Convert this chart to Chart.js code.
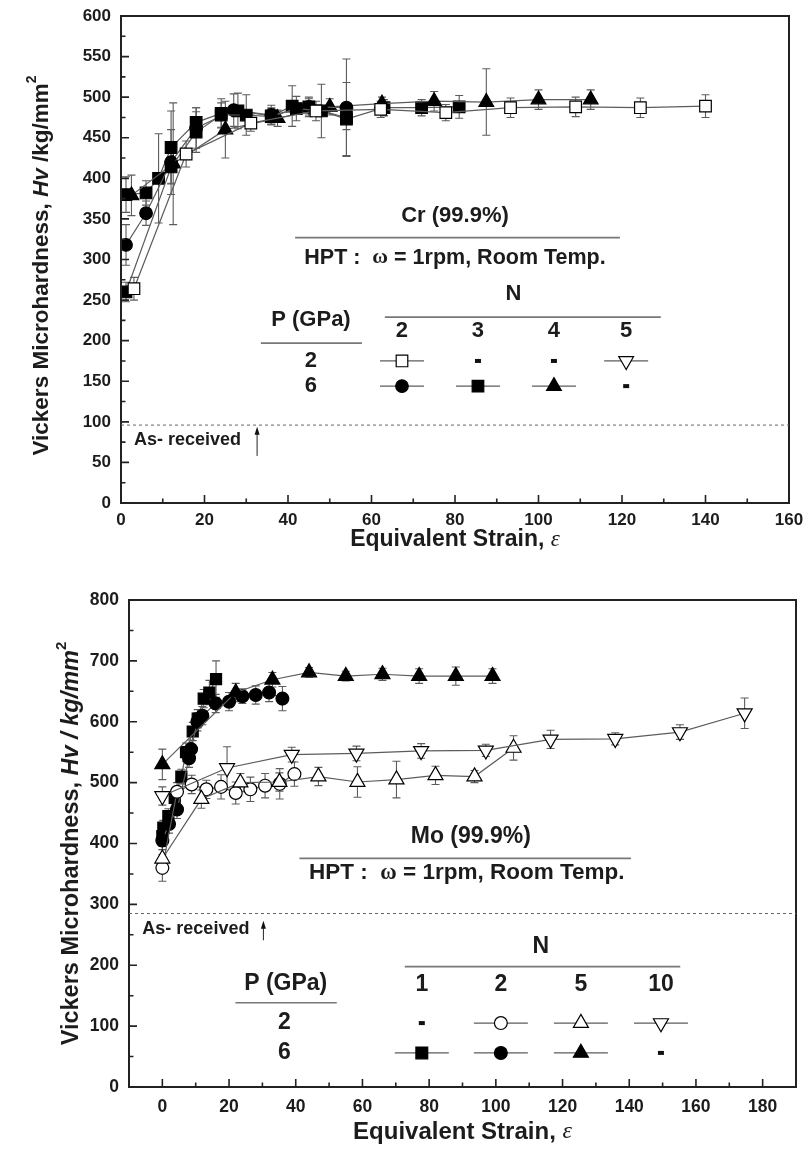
<!DOCTYPE html>
<html><head><meta charset="utf-8">
<script src="https://cdn.jsdelivr.net/npm/chart.js@4.4.0/dist/chart.umd.min.js"></script>
<style>
html,body{margin:0;padding:0;background:#fff;}
#wrap{position:relative;width:806px;height:1151px;overflow:hidden;}
.box{position:absolute;left:0;width:806px;}
canvas{display:block;}
</style></head><body>
<div id="wrap">
<div class="box" style="top:0;height:560px"><canvas id="c1" width="806" height="560"></canvas></div>
<div class="box" style="top:560px;height:591px"><canvas id="c2" width="806" height="591"></canvas></div>
</div>
<script>
// ================= DATA : Cr (top panel) =================
const crXTicks = [0, 20, 40, 60, 80, 100, 120, 140, 160];
const crYTicks = [0, 50, 100, 150, 200, 250, 300, 350, 400, 450, 500, 550, 600];
// P = 2 GPa, N = 2 (open squares)
const crStrainP2N2 = [3.1, 15.6, 31.1, 46.7, 62.2, 77.8, 93.3, 108.9, 124.4, 140];
const crHvP2N2     = [264, 430, 468, 483, 485, 481, 487, 488, 487, 489];
const crErrP2N2    = [14, 16, 10, 12, 10, 10, 12, 12, 12, 14];
// P = 6 GPa, N = 2 (filled circles)
const crStrainP6N2 = [1.2, 6, 12, 18, 27, 36, 45, 54];
const crHvP6N2     = [318, 357, 420, 462, 484, 478, 488, 487];
const crErrP6N2    = [25, 15, 40, 25, 20, 12, 10, 60];
// P = 6 GPa, N = 3 (filled squares)
const crStrainP6N3 = [1.2, 6, 9, 12, 18, 24, 28, 36, 41, 45, 54, 63, 72, 81];
const crHvP6N3     = [380, 382, 400, 438, 469, 480, 483, 477, 489, 488, 473, 487, 487, 488];
const crErrP6N3    = [22, 15, 55, 45, 18, 18, 22, 10, 25, 12, 45, 10, 10, 14];
// P = 6 GPa, N = 3 (filled squares, second disc)
const crStrainP6N3b = [1.2, 12, 18, 24, 30, 36, 42, 48, 54];
const crHvP6N3b     = [260, 414, 457, 478, 478, 476, 486, 483, 475];
const crErrP6N3b    = [12, 20, 25, 15, 25, 10, 15, 33, 15];
// P = 6 GPa, N = 4 (filled triangles)
const crStrainP6N4 = [2.5, 12.5, 25, 37.5, 50, 62.5, 75, 87.5, 100, 112.5];
const crHvP6N4     = [379, 418, 460, 474, 488, 492, 495, 494, 497, 497];
const crErrP6N4    = [25, 75, 35, 10, 10, 8, 12, 41, 12, 12];
const crAsReceived = 96;
const crNLabels = ['2', '3', '4', '5'];
const crPLabels = ['2', '6'];

// ================= DATA : Mo (bottom panel) =================
const moXTicks = [0, 20, 40, 60, 80, 100, 120, 140, 160, 180];
const moYTicks = [0, 100, 200, 300, 400, 500, 600, 700, 800];
// P = 6 GPa, N = 1 (filled squares)
const moStrainP6N1 = [0, 0.3, 1.8, 3.7, 5.7, 7.1, 9.1, 10.6, 12.4, 14.1, 16.1];
const moHvP6N1     = [412, 426, 445, 475, 510, 550, 584, 605, 638, 648, 670];
const moErrP6N1    = [12, 12, 12, 12, 12, 15, 15, 15, 15, 20, 30];
// P = 6 GPa, N = 2 (filled circles)
const moStrainP6N2 = [0, 2, 4.4, 8, 8.6, 10.5, 12, 16, 20, 24, 28, 32, 36];
const moHvP6N2     = [405, 432, 456, 540, 555, 600, 610, 630, 633, 642, 644, 648, 638];
const moErrP6N2    = [15, 15, 15, 15, 15, 15, 15, 15, 15, 12, 15, 15, 20];
// P = 6 GPa, N = 5 (filled triangles)
const moStrainP6N5 = [0, 22, 33, 44, 55, 66, 77, 88, 99];
const moHvP6N5     = [530, 648, 669, 681, 675, 678, 675, 675, 675];
const moErrP6N5    = [25, 15, 12, 8, 8, 10, 12, 15, 12];
// P = 2 GPa, N = 2 (open circles)
const moStrainP2N2 = [0, 4.4, 8.8, 13.2, 17.6, 22, 26.4, 30.8, 35.2, 39.6];
const moHvP2N2     = [360, 485, 497, 489, 493, 483, 489, 495, 498, 514];
const moErrP2N2    = [22, 15, 15, 15, 20, 18, 20, 20, 25, 20];
// P = 2 GPa, N = 5 (open triangles)
const moStrainP2N5 = [0, 11.7, 23.4, 35.1, 46.8, 58.5, 70.2, 81.9, 93.6, 105.3];
const moHvP2N5     = [375, 473, 500, 501, 510, 501, 505, 512, 510, 557];
const moErrP2N5    = [20, 15, 15, 15, 15, 25, 30, 15, 10, 20];
// P = 2 GPa, N = 10 (open down-triangles)
const moStrainP2N10 = [0, 19.4, 38.8, 58.2, 77.6, 97, 116.4, 135.8, 155.2, 174.6];
const moHvP2N10     = [478, 524, 546, 548, 552, 553, 571, 572, 583, 614];
const moErrP2N10    = [15, 35, 12, 12, 12, 10, 15, 10, 12, 25];
const moAsReceived = 285;
const moNLabels = ['1', '2', '5', '10'];
const moPLabels = ['2', '6'];

// ================= STYLE / RENDERING =================
const FONT = "'Liberation Sans', Arial, Helvetica, sans-serif";
const SERIF = "'Liberation Serif', 'DejaVu Serif', serif";
const INK = '#1c1c1c';
const LINE = '#5c5c5c';

const MK = {
  oSquare: {style: 'rect', fill: false, rot: 0},
  fSquare: {style: 'rect', fill: true, rot: 0},
  oCircle: {style: 'circle', fill: false, rot: 0},
  fCircle: {style: 'circle', fill: true, rot: 0},
  oTri: {style: 'triangle', fill: false, rot: 0},
  fTri: {style: 'triangle', fill: true, rot: 0},
  oDown: {style: 'triangle', fill: false, rot: 180},
};
const RAD = {rect: 8.2, circle: 6.3, triangle: 8.5};

function series(xs, ys, errs, mk, scale) {
  const m = MK[mk];
  const r = RAD[m.style] * (scale || 1);
  return {
    data: xs.map((x, i) => ({x: x, y: ys[i]})),
    errors: errs,
    showLine: true, fill: false, tension: 0,
    borderColor: LINE, borderWidth: 1.2,
    pointStyle: m.style, pointRotation: m.rot,
    pointRadius: r, pointHoverRadius: r,
    pointBackgroundColor: m.fill ? '#000' : '#fff',
    pointBorderColor: '#000', pointBorderWidth: 1.2
  };
}

function drawMarker(ctx, mk, x, y, r) {
  const m = MK[mk];
  ctx.save();
  ctx.beginPath();
  if (m.style === 'rect') {
    const s = Math.SQRT1_2 * r;
    ctx.rect(x - s, y - s, 2 * s, 2 * s);
  } else if (m.style === 'circle') {
    ctx.arc(x, y, r, 0, Math.PI * 2);
  } else {
    let a = m.rot * Math.PI / 180;
    ctx.moveTo(x + Math.sin(a) * r, y - Math.cos(a) * r);
    a += 2 * Math.PI / 3; ctx.lineTo(x + Math.sin(a) * r, y - Math.cos(a) * r);
    a += 2 * Math.PI / 3; ctx.lineTo(x + Math.sin(a) * r, y - Math.cos(a) * r);
    ctx.closePath();
  }
  ctx.fillStyle = m.fill ? '#000' : '#fff';
  ctx.fill();
  ctx.lineWidth = 1.2; ctx.strokeStyle = '#000';
  ctx.stroke();
  ctx.restore();
}

function fontOf(kind, size) {
  if (kind === 'bi') return 'italic bold ' + size + 'px ' + FONT;
  if (kind === 'i') return 'italic ' + size + 'px ' + SERIF;
  if (kind === 'serif') return 'bold ' + size + 'px ' + SERIF;
  if (kind === 'sup') return 'bold ' + Math.round(size * 0.62) + 'px ' + FONT;
  return 'bold ' + size + 'px ' + FONT;
}
function richWidth(ctx, parts, size) {
  let w = 0;
  parts.forEach(p => { ctx.font = fontOf(p[1], size); w += ctx.measureText(p[0]).width; });
  return w;
}
function drawRich(ctx, parts, x, y, size, align) {
  const w = richWidth(ctx, parts, size);
  let cx = align === 'left' ? x : x - w / 2;
  ctx.textBaseline = 'middle';
  ctx.textAlign = 'left';
  ctx.fillStyle = INK;
  parts.forEach(p => {
    ctx.font = fontOf(p[1], size);
    const dy = p[1] === 'sup' ? -size * 0.42 : 0;
    ctx.fillText(p[0], cx, y + dy);
    cx += ctx.measureText(p[0]).width;
  });
}

function makeDeco(cfg) {
  return {
    id: 'deco',
    beforeDatasetsDraw(chart) {
      const ctx = chart.ctx, xs = chart.scales.x, ys = chart.scales.y;
      ctx.save();
      ctx.strokeStyle = LINE; ctx.lineWidth = 1.1;
      chart.data.datasets.forEach(d => {
        d.data.forEach((p, i) => {
          const e = d.errors[i];
          const px = xs.getPixelForValue(p.x);
          const y1 = ys.getPixelForValue(p.y + e), y2 = ys.getPixelForValue(p.y - e);
          ctx.beginPath();
          ctx.moveTo(px, y1); ctx.lineTo(px, y2);
          ctx.moveTo(px - cfg.cap, y1); ctx.lineTo(px + cfg.cap, y1);
          ctx.moveTo(px - cfg.cap, y2); ctx.lineTo(px + cfg.cap, y2);
          ctx.stroke();
        });
      });
      ctx.restore();
    },
    afterDraw(chart) {
      const ctx = chart.ctx, xs = chart.scales.x, ys = chart.scales.y;
      const a = chart.chartArea;
      const X = v => xs.getPixelForValue(v), Y = v => ys.getPixelForValue(v);
      ctx.save();
      // frame
      ctx.strokeStyle = '#222'; ctx.lineWidth = 2;
      ctx.strokeRect(a.left, a.top, a.right - a.left, a.bottom - a.top);
      // inward ticks
      ctx.lineWidth = 1.6;
      ctx.beginPath();
      for (let v = cfg.yMin; v <= cfg.yMax; v += cfg.yMinor) {
        const major = (v - cfg.yMin) % cfg.yMajor === 0;
        const py = Y(v);
        ctx.moveTo(a.left, py); ctx.lineTo(a.left + (major ? 8 : 4.5), py);
      }
      for (let v = cfg.xStart; v < cfg.xMax; v += cfg.xMinor) {
        const major = (v - cfg.xStart) % cfg.xMajor === 0;
        const px = X(v);
        ctx.moveTo(px, a.bottom); ctx.lineTo(px, a.bottom - (major ? 8 : 4.5));
      }
      ctx.stroke();
      // as-received dashed line
      ctx.strokeStyle = '#666'; ctx.lineWidth = 1; ctx.setLineDash([3, 3]);
      ctx.beginPath();
      ctx.moveTo(a.left, Y(cfg.asRec)); ctx.lineTo(a.right, Y(cfg.asRec));
      ctx.stroke();
      ctx.setLineDash([]);
      drawRich(ctx, [['As- received', 'b']], X(cfg.asText[0]), Y(cfg.asText[1]), cfg.asSize, 'left');
      // arrow
      const ax = X(cfg.arrow[0]), ay0 = Y(cfg.arrow[1]), ay1 = Y(cfg.arrow[2]);
      ctx.strokeStyle = '#222'; ctx.lineWidth = 1;
      ctx.beginPath(); ctx.moveTo(ax, ay0); ctx.lineTo(ax, ay1 + 6); ctx.stroke();
      ctx.fillStyle = '#111';
      ctx.beginPath(); ctx.moveTo(ax, ay1); ctx.lineTo(ax - 2.5, ay1 + 8); ctx.lineTo(ax + 2.5, ay1 + 8); ctx.closePath(); ctx.fill();
      // annotation texts
      cfg.texts.forEach(t => drawRich(ctx, t.parts, X(t.x), Y(t.y), t.size, 'center'));
      // annotation rules
      ctx.strokeStyle = '#777'; ctx.lineWidth = 1.6;
      cfg.rules.forEach(r => { ctx.beginPath(); ctx.moveTo(X(r[0]), Y(r[2])); ctx.lineTo(X(r[1]), Y(r[2])); ctx.stroke(); });
      // legend table
      cfg.colLabels.forEach((l, j) => drawRich(ctx, [[l, 'b']], X(cfg.colX[j]), Y(cfg.colY), cfg.tSize, 'center'));
      cfg.rowLabels.forEach((l, i) => {
        drawRich(ctx, [[l, 'b']], X(cfg.rowX), Y(cfg.rowY[i]), cfg.tSize, 'center');
        cfg.grid[i].forEach((mk, j) => {
          const cx = X(cfg.colX[j]), cy = Y(cfg.rowY[i]);
          if (mk === '-') {
            ctx.fillStyle = '#111';
            ctx.fillRect(cx - 3, cy - 2, 6, 4);
          } else {
            ctx.strokeStyle = LINE; ctx.lineWidth = 1.2;
            ctx.beginPath(); ctx.moveTo(cx - cfg.seg, cy); ctx.lineTo(cx + cfg.seg, cy); ctx.stroke();
            drawMarker(ctx, mk, cx, cy, RAD[MK[mk].style] * cfg.mScale);
          }
        });
      });
      // axis titles
      drawRich(ctx, [['Equivalent Strain, ', 'b'], ['\u03b5', 'i']], (a.left + a.right) / 2 + cfg.xTitleDx, cfg.xTitleY, cfg.xTitleSize, 'center');
      ctx.save();
      ctx.translate(cfg.yTitleX, (a.top + a.bottom) / 2 + cfg.yTitleDy);
      ctx.rotate(-Math.PI / 2);
      drawRich(ctx, cfg.yTitle, 0, 0, cfg.yTitleSize, 'center');
      ctx.restore();
      ctx.restore();
    }
  };
}

function buildChart(id, datasets, sc, deco) {
  Chart.defaults.font.family = FONT;
  return new Chart(document.getElementById(id), {
    type: 'scatter',
    data: {datasets: datasets},
    options: {
      responsive: false, animation: false, events: [],
      layout: {padding: {left: 0, right: sc.padRight, top: sc.padTop, bottom: 0}},
      plugins: {legend: {display: false}, tooltip: {enabled: false}},
      scales: {
        x: {
          type: 'linear', position: 'bottom', min: sc.xMin, max: sc.xMax,
          grid: {display: false, drawTicks: false}, border: {display: false},
          ticks: {color: INK, font: {size: sc.tickSize, weight: 'bold'}, padding: sc.xPad, maxRotation: 0, autoSkip: false},
          afterBuildTicks: s => { s.ticks = sc.xTicks.map(v => ({value: v})); },
          afterFit: s => { s.height = sc.xHeight; s.paddingLeft = 0; s.paddingRight = 0; }
        },
        y: {
          type: 'linear', position: 'left', min: sc.yMin, max: sc.yMax,
          grid: {display: false, drawTicks: false}, border: {display: false},
          ticks: {color: INK, font: {size: sc.tickSize, weight: 'bold'}, padding: sc.yPad, autoSkip: false},
          afterBuildTicks: s => { s.ticks = sc.yTicks.map(v => ({value: v})); },
          afterFit: s => { s.width = sc.yWidth; s.paddingTop = 0; s.paddingBottom = 0; }
        }
      }
    },
    plugins: [makeDeco(deco)]
  });
}

// ---------- Top panel: Cr ----------
buildChart('c1', [
  series(crStrainP2N2, crHvP2N2, crErrP2N2, 'oSquare'),
  series(crStrainP6N3b, crHvP6N3b, crErrP6N3b, 'fSquare'),
  series(crStrainP6N2, crHvP6N2, crErrP6N2, 'fCircle'),
  series(crStrainP6N4, crHvP6N4, crErrP6N4, 'fTri'),
  series(crStrainP6N3, crHvP6N3, crErrP6N3, 'fSquare')
], {
  xMin: 0, xMax: 160, yMin: 0, yMax: 600, xTicks: crXTicks, yTicks: crYTicks,
  padRight: 17, padTop: 16, xHeight: 57, yWidth: 121, tickSize: 17, xPad: 7, yPad: 10
}, {
  cap: 4, yMin: 0, yMax: 600, yMinor: 25, yMajor: 50, xStart: 0, xMax: 160, xMinor: 10, xMajor: 20,
  asRec: crAsReceived, asText: [3.1, 77], asSize: 18, arrow: [32.6, 58, 94],
  texts: [
    {parts: [['Cr (99.9%)', 'b']], x: 80, y: 354, size: 22},
    {parts: [['HPT :  ', 'b'], ['\u03c9', 'serif'], [' = 1rpm, Room Temp.', 'b']], x: 80, y: 302, size: 21.5},
    {parts: [['N', 'b']], x: 94, y: 258, size: 22},
    {parts: [['P (GPa)', 'b']], x: 45.5, y: 225, size: 22}
  ],
  rules: [[41.7, 119.5, 327], [63.2, 129.3, 229], [33.5, 57.7, 197]],
  colLabels: crNLabels, colX: [67.3, 85.5, 103.7, 121], colY: 212,
  rowLabels: crPLabels, rowX: 45.5, rowY: [175, 144],
  grid: [['oSquare', '-', '-', 'oDown'], ['fCircle', 'fSquare', 'fTri', '-']],
  seg: 22, mScale: 1, tSize: 22,
  xTitleDx: 0, xTitleY: 540, xTitleSize: 23, yTitleX: 42, yTitleDy: 6, yTitleSize: 22.5,
  yTitle: [['Vickers Microhardness, ', 'b'], ['Hv', 'bi'], [' /kg/mm', 'b'], ['2', 'sup']]
});

// ---------- Bottom panel: Mo ----------
buildChart('c2', [
  series(moStrainP2N10, moHvP2N10, moErrP2N10, 'oDown', 1.02),
  series(moStrainP2N5, moHvP2N5, moErrP2N5, 'oTri', 1.02),
  series(moStrainP2N2, moHvP2N2, moErrP2N2, 'oCircle', 1.02),
  series(moStrainP6N5, moHvP6N5, moErrP6N5, 'fTri', 1.02),
  series(moStrainP6N2, moHvP6N2, moErrP6N2, 'fCircle', 1.02),
  series(moStrainP6N1, moHvP6N1, moErrP6N1, 'fSquare', 0.95)
], {
  xMin: -10, xMax: 190, yMin: 0, yMax: 800, xTicks: moXTicks, yTicks: moYTicks,
  padRight: 10, padTop: 40, xHeight: 64, yWidth: 129, tickSize: 17.5, xPad: 10, yPad: 10
}, {
  cap: 4, yMin: 0, yMax: 800, yMinor: 50, yMajor: 100, xStart: 0, xMax: 190, xMinor: 10, xMajor: 20,
  asRec: moAsReceived, asText: [-6, 260], asSize: 18, arrow: [30.3, 241, 273],
  texts: [
    {parts: [['Mo (99.9%)', 'b']], x: 92.5, y: 412, size: 23},
    {parts: [['HPT :  ', 'b'], ['\u03c9', 'serif'], [' = 1rpm, Room Temp.', 'b']], x: 91.3, y: 352, size: 22.5},
    {parts: [['N', 'b']], x: 113.5, y: 230, size: 23},
    {parts: [['P (GPa)', 'b']], x: 37, y: 169, size: 23}
  ],
  rules: [[41.1, 140.5, 375.6], [72.7, 155.3, 197.7], [21.9, 52.3, 138.4]],
  colLabels: moNLabels, colX: [77.8, 101.5, 125.5, 149.5], colY: 168,
  rowLabels: moPLabels, rowX: 36.6, rowY: [105, 56],
  grid: [['-', 'oCircle', 'oTri', 'oDown'], ['fSquare', 'fCircle', 'fTri', '-']],
  seg: 27, mScale: 1.02, tSize: 23,
  xTitleDx: 0, xTitleY: 572, xTitleSize: 24, yTitleX: 72, yTitleDy: 0, yTitleSize: 23.5,
  yTitle: [['Vickers Microhardness, ', 'b'], ['Hv / kg/mm', 'bi'], ['2', 'sup']]
});
</script>
</body></html>
